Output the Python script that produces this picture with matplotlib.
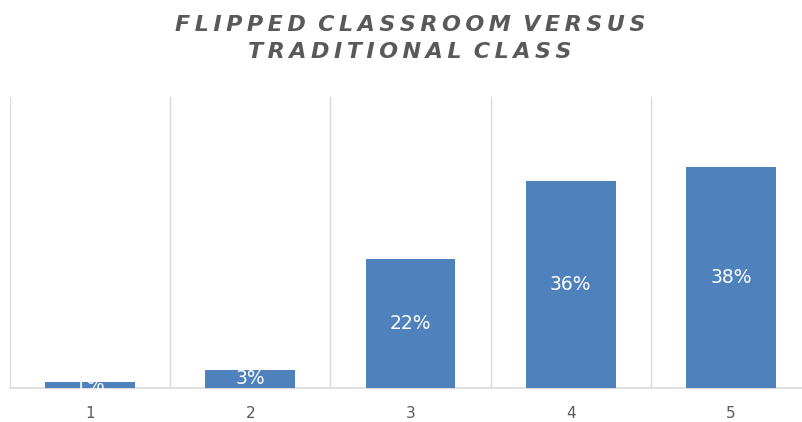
import matplotlib.pyplot as plt
import numpy as np

categories = ["1", "2", "3", "4", "5"]
values = [1.0, 3.1, 22.1, 35.6, 37.9]
title_lines = ["FLIPPED CLASSROOM VERSUS", "TRADITIONAL CLASS"]

BAR = "#4f81bd"
GRID = "#d9d9d9"
TXT = "#595959"


def spaced(s):
    # imitate Excel's character spacing with thin spaces
    return " \u2009".join("\u2009".join(w) for w in s.split(" "))


fig = plt.figure(figsize=(8.02, 4.22), dpi=100)
ax = fig.add_axes([10 / 802, 1 - 388 / 422, 801 / 802, (388 - 97) / 422])

x = np.arange(len(categories))
bars = ax.bar(x, values, width=0.56, color=BAR, zorder=3)
for b, v in zip(bars, values):
    ax.text(b.get_x() + b.get_width() / 2, v / 2, f"{v:.0f}%",
            ha="center", va="center", color="white", fontsize=13.5, zorder=4)

ax.set_xlim(-0.5, len(categories) - 0.5)
ax.set_ylim(0, 50)
ax.set_xticks(x)
ax.set_xticklabels(categories, fontsize=11, color=TXT)
ax.set_xticks(np.arange(-0.5, len(categories)), minor=True)
ax.tick_params(axis="x", which="both", length=0, pad=13)
ax.grid(True, which="minor", axis="x", color=GRID, lw=1, zorder=0)
ax.set_yticks([])
for side in ("top", "right", "left"):
    ax.spines[side].set_visible(False)
ax.spines["bottom"].set_color(GRID)
ax.spines["bottom"].set_linewidth(1.2)

fig.text(410 / 802, 1 - 25 / 422, spaced(title_lines[0]), ha="center", va="center",
         fontsize=16, fontweight="bold", fontstyle="italic", color=TXT)
fig.text(410 / 802, 1 - 52 / 422, spaced(title_lines[1]), ha="center", va="center",
         fontsize=16, fontweight="bold", fontstyle="italic", color=TXT)

fig.savefig("out.png", dpi=100)
